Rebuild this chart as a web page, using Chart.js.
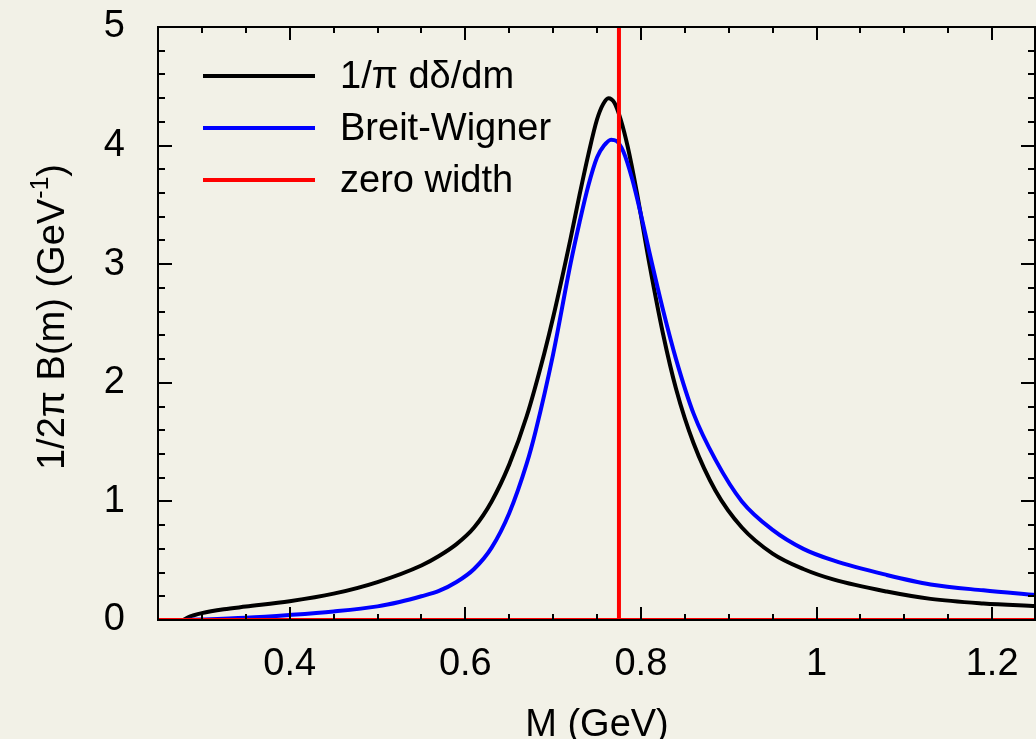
<!DOCTYPE html>
<html>
<head>
<meta charset="utf-8">
<script src="https://cdn.jsdelivr.net/npm/chart.js@4.4.1/dist/chart.umd.min.js"></script>
<style>
  html, body { margin: 0; padding: 0; background: #f2f1e7; }
  #wrap { width: 1036px; height: 739px; }
</style>
</head>
<body>
<div id="wrap"><canvas id="myChart" width="1036" height="739"></canvas></div>
<script>
// 1/pi d(delta)/dm
var massDelta = [0.279, 0.285, 0.29, 0.30, 0.325, 0.35, 0.40, 0.45, 0.50, 0.55, 0.57, 0.59, 0.61, 0.63, 0.65, 0.67, 0.69, 0.70, 0.72, 0.73, 0.74, 0.75, 0.757, 0.763, 0.77, 0.777, 0.785, 0.795, 0.81, 0.825, 0.84, 0.86, 0.885, 0.915, 0.95, 0.985, 1.02, 1.08, 1.13, 1.19, 1.25];
var phaseDeriv = [0, 0.025, 0.038, 0.058, 0.09, 0.113, 0.158, 0.222, 0.32, 0.46, 0.54, 0.64, 0.78, 1.00, 1.31, 1.72, 2.25, 2.55, 3.22, 3.58, 3.92, 4.22, 4.35, 4.40, 4.36, 4.22, 3.99, 3.62, 2.99, 2.42, 1.95, 1.49, 1.09, 0.78, 0.56, 0.43, 0.34, 0.24, 0.178, 0.14, 0.118];

// Breit-Wigner
var massBW = [0.279, 0.30, 0.35, 0.40, 0.45, 0.50, 0.525, 0.55, 0.57, 0.59, 0.61, 0.63, 0.65, 0.67, 0.68, 0.70, 0.72, 0.73, 0.74, 0.75, 0.758, 0.766, 0.772, 0.78, 0.79, 0.80, 0.81, 0.825, 0.84, 0.86, 0.885, 0.915, 0.95, 0.985, 1.02, 1.08, 1.13, 1.19, 1.25];
var breitWigner = [0, 0.004, 0.018, 0.042, 0.072, 0.115, 0.152, 0.20, 0.245, 0.32, 0.43, 0.61, 0.90, 1.32, 1.59, 2.24, 3.01, 3.35, 3.66, 3.90, 4.00, 4.05, 4.04, 3.95, 3.72, 3.42, 3.09, 2.62, 2.20, 1.74, 1.35, 1.00, 0.76, 0.60, 0.50, 0.38, 0.30, 0.25, 0.21];

// zero width (delta at rho mass)
var massZero = [0.25, 0.775, 0.775, 0.775, 1.25];
var zeroWidth = [0, 0, 5, 0, 0];

var xTicks = [0.4, 0.6, 0.8, 1, 1.2];
var yTicks = [0, 1, 2, 3, 4, 5];
var xMinorStep = 0.05;
var yMinorStep = 0.2;

var FONT = '"Liberation Sans", Arial, Helvetica, sans-serif';

function pts(xs, ys) {
    return xs.map(function (x, i) { return { x: x, y: ys[i] }; });
}

// box round the plot with inward ticks on all four sides
var framePlugin = {
    id: 'frame',
    afterDatasetsDraw: function (chart) {
        var c = chart.ctx, a = chart.chartArea;
        var xs = chart.scales.x, ys = chart.scales.y;
        var right = a.right - 1;
        c.save();
        c.strokeStyle = '#000';
        c.lineWidth = 2;
        c.strokeRect(a.left, a.top, right - a.left, a.bottom - a.top);
        c.beginPath();
        var k, v, p, len;
        for (k = 1; k * xMinorStep < xs.max - 1e-9; k++) {
            v = k * xMinorStep;
            if (v <= xs.min + 1e-9) continue;
            p = Math.round(xs.getPixelForValue(v));
            len = (k % 4 === 0) ? 13 : 6;
            c.moveTo(p, a.bottom); c.lineTo(p, a.bottom - len);
            c.moveTo(p, a.top); c.lineTo(p, a.top + len);
        }
        for (k = 1; k * yMinorStep < ys.max - 1e-9; k++) {
            v = k * yMinorStep;
            p = Math.round(ys.getPixelForValue(v));
            len = (k % 5 === 0) ? 14 : 7;
            c.moveTo(a.left, p); c.lineTo(a.left + len, p);
            c.moveTo(right, p); c.lineTo(right - len, p);
        }
        c.stroke();
        c.restore();
    }
};

// legend drawn inside the plot, top left
var legendPlugin = {
    id: 'insideLegend',
    afterDraw: function (chart) {
        var c = chart.ctx;
        c.save();
        c.font = '38px ' + FONT;
        c.textBaseline = 'middle';
        c.fillStyle = '#000';
        chart.data.datasets.forEach(function (ds, i) {
            var y = 76 + i * 52;
            c.strokeStyle = ds.borderColor;
            c.lineWidth = 4;
            c.beginPath();
            c.moveTo(203, y); c.lineTo(315, y);
            c.stroke();
            c.fillText(ds.label, 340, y + 2);
        });
        c.restore();
    }
};

// y title with a superscript
var yTitlePlugin = {
    id: 'yTitle',
    afterDraw: function (chart) {
        var c = chart.ctx;
        var main = '1/2\u03c0 B(m) (GeV', sup = '-1', close = ')';
        c.save();
        c.fillStyle = '#000';
        c.textBaseline = 'middle';
        c.font = '38px ' + FONT;
        var w1 = c.measureText(main).width, w3 = c.measureText(close).width;
        c.font = '25px ' + FONT;
        var w2 = c.measureText(sup).width;
        c.translate(52, 317);
        c.rotate(-Math.PI / 2);
        var x = -(w1 + w2 + w3) / 2;
        c.font = '38px ' + FONT;
        c.fillText(main, x, 2);
        x += w1;
        c.font = '25px ' + FONT;
        c.fillText(sup, x, -11);
        x += w2;
        c.font = '38px ' + FONT;
        c.fillText(close, x, 2);
        c.restore();
    }
};

var ctx = document.getElementById('myChart').getContext('2d');
var myChart = new Chart(ctx, {
    type: 'line',
    data: {
        datasets: [{
            label: '1/\u03c0 d\u03b4/dm',
            data: pts(massDelta, phaseDeriv),
            borderColor: '#000000',
            borderWidth: 4,
            pointRadius: 0,
            cubicInterpolationMode: 'monotone',
            order: 2
        }, {
            label: 'Breit-Wigner',
            data: pts(massBW, breitWigner),
            borderColor: '#0000ff',
            borderWidth: 4,
            pointRadius: 0,
            cubicInterpolationMode: 'monotone',
            order: 1
        }, {
            label: 'zero width',
            data: pts(massZero, zeroWidth),
            borderColor: '#ff0000',
            borderWidth: 4,
            pointRadius: 0,
            tension: 0,
            order: 0
        }]
    },
    options: {
        responsive: false,
        animation: false,
        devicePixelRatio: 1,
        layout: { padding: { top: 27, right: 0, left: 0, bottom: 0 } },
        plugins: {
            legend: { display: false },
            tooltip: { enabled: false }
        },
        scales: {
            x: {
                type: 'linear',
                min: 0.25,
                max: 1.25,
                afterBuildTicks: function (scale) {
                    scale.ticks = xTicks.map(function (v) { return { value: v }; });
                },
                afterFit: function (scale) {
                    scale.height = 119;
                    scale.paddingLeft = 0;
                    scale.paddingRight = 0;
                },
                grid: { display: false },
                border: { display: false },
                ticks: {
                    color: '#000',
                    font: { family: FONT, size: 38 },
                    padding: 14,
                    maxRotation: 0,
                    callback: function (v) { return String(Number(v.toFixed(2))); }
                },
                title: {
                    display: true,
                    text: 'M (GeV)',
                    color: '#000',
                    font: { family: FONT, size: 38 },
                    padding: { top: 0, bottom: -9 }
                }
            },
            y: {
                type: 'linear',
                min: 0,
                max: 5,
                afterBuildTicks: function (scale) {
                    scale.ticks = yTicks.map(function (v) { return { value: v }; });
                },
                afterFit: function (scale) {
                    scale.width = 158;
                    scale.paddingTop = 0;
                    scale.paddingBottom = 0;
                },
                grid: { display: false },
                border: { display: false },
                ticks: {
                    color: '#000',
                    font: { family: FONT, size: 38 },
                    padding: 25
                }
            }
        }
    },
    plugins: [framePlugin, legendPlugin, yTitlePlugin]
});
</script>
</body>
</html>
